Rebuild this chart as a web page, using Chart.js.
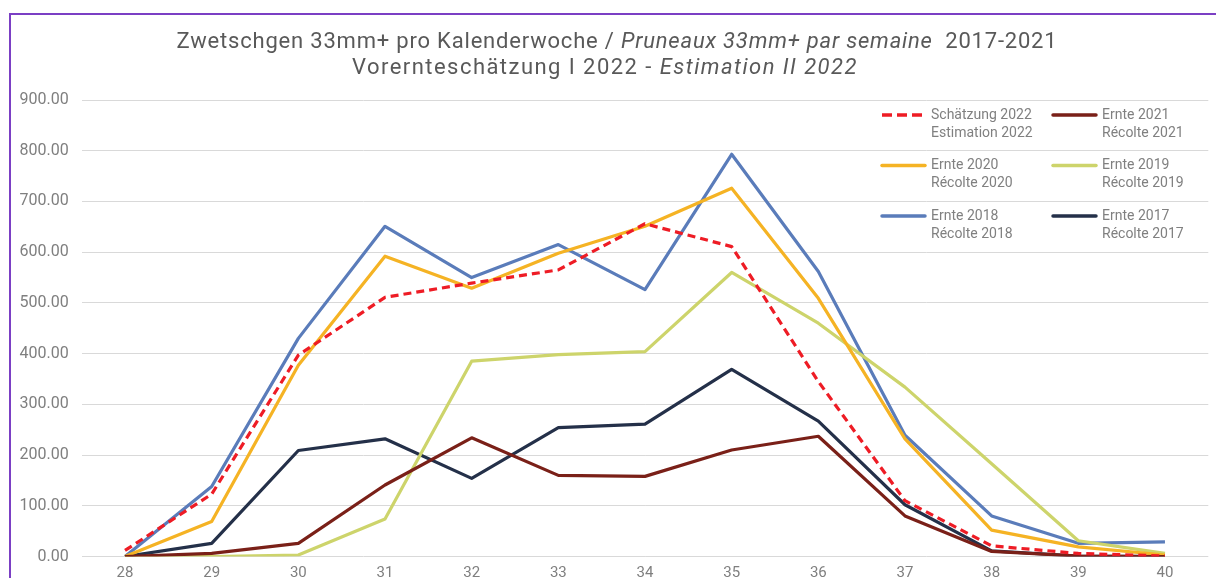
<!DOCTYPE html>
<html>
<head>
<meta charset="utf-8">
<script src="https://cdn.jsdelivr.net/npm/chart.js@4/dist/chart.umd.min.js"></script>
<style>
    body { margin: 0; background: #fff; overflow: hidden; }
    #wrap { position: absolute; left: 0; top: 0; width: 1216px; height: 600px; }
    #frame { position: absolute; left: 9px; top: 13px; width: 1300px; height: 700px;
             border-top: 2px solid #7b3fc4; border-left: 2px solid #7b3fc4; pointer-events: none; }
</style>
</head>
<body>
<div id="wrap"><canvas id="chart"></canvas></div>
<div id="frame"></div>
<script>
const weeks = ['28', '29', '30', '31', '32', '33', '34', '35', '36', '37', '38', '39', '40']
const schaetzung2022 = [12, 123, 397, 511, 539, 565, 656, 611, 345, 110, 21, 6, 1]
const ernte2021 = [0, 6, 26, 141, 234, 160, 158, 210, 237, 80, 10, 1, 0]
const ernte2020 = [0, 69, 377, 592, 529, 598, 651, 726, 509, 232, 52, 19, 3]
const ernte2019 = [0, 0, 3, 74, 385, 398, 404, 560, 460, 334, 183, 31, 6]
const ernte2018 = [0, 138, 430, 651, 550, 615, 526, 793, 562, 239, 80, 26, 29]
const ernte2017 = [0, 26, 209, 232, 154, 254, 261, 369, 267, 102, 11, 1, 0]
const legendDe = ['Schätzung 2022', 'Ernte 2021', 'Ernte 2020', 'Ernte 2019', 'Ernte 2018', 'Ernte 2017']
const legendFr = ['Estimation 2022', 'Récolte 2021', 'Récolte 2020', 'Récolte 2019', 'Récolte 2018', 'Récolte 2017']
const colors = ['#ee1c25', '#7a2018', '#f5b324', '#cdd46b', '#5a7cba', '#243049']
const yTicks = [0, 100, 200, 300, 400, 500, 600, 700, 800, 900]

// title with mixed upright / italic parts
const titleLines = [
    [['Zwetschgen 33mm+ pro Kalenderwoche / ', false], ['Pruneaux 33mm+ par semaine', true], ['  2017-2021', false]],
    [['Vorernteschätzung I 2022 - ', false], ['Estimation II 2022', true]]
]

const titlePlugin = {
    id: 'mixedTitle',
    afterDraw(chart) {
        const ctx = chart.ctx
        const centers = [617, 605]
        const ys = [42, 68]
        const spacing = ['0.8px', '1.45px']
        ctx.save()
        ctx.fillStyle = '#595959'
        ctx.textBaseline = 'middle'
        titleLines.forEach((parts, li) => {
            ctx.letterSpacing = spacing[li]
            const font = it => (it ? 'italic ' : '') + '22px Roboto'
            let total = 0
            parts.forEach(([t, it]) => { ctx.font = font(it); total += ctx.measureText(t).width })
            let x = centers[li] - total / 2
            parts.forEach(([t, it]) => {
                ctx.font = font(it)
                ctx.fillText(t, x, ys[li])
                x += ctx.measureText(t).width
            })
        })
        ctx.restore()
    }
}

const legendPlugin = {
    id: 'twoLineLegend',
    afterDraw(chart) {
        const ctx = chart.ctx
        const area = chart.chartArea
        ctx.save()
        ctx.font = '14px Roboto'
        ctx.textBaseline = 'middle'
        legendDe.forEach((de, i) => {
            const col = i % 2
            const row = Math.floor(i / 2)
            const x = col === 0 ? 882 : 1053
            const y = area.top + 15 + row * 50.5
            ctx.strokeStyle = colors[i]
            ctx.lineWidth = 3.5
            ctx.lineCap = i === 0 ? 'butt' : 'round'
            ctx.setLineDash(i === 0 ? [10, 5] : [])
            ctx.beginPath()
            ctx.moveTo(x, y)
            ctx.lineTo(x + 43, y)
            ctx.stroke()
            ctx.fillStyle = '#808080'
            ctx.fillText(de, x + 49, y)
            ctx.fillText(legendFr[i], x + 49, y + 18)
        })
        ctx.restore()
    }
}

const series = [schaetzung2022, ernte2021, ernte2020, ernte2019, ernte2018, ernte2017]

const ctx = document.getElementById('chart').getContext('2d')
new Chart(ctx, {
    type: 'line',
    data: {
        labels: weeks,
        datasets: series.map((s, i) => ({
            label: legendDe[i],
            data: s,
            borderColor: colors[i],
            backgroundColor: colors[i],
            borderWidth: 3.2,
            borderDash: i === 0 ? [8, 5] : [],
            borderJoinStyle: 'round',
            pointRadius: 0,
            tension: 0,
            fill: false
        }))
    },
    options: {
        responsive: true,
        maintainAspectRatio: false,
        animation: false,
        layout: { padding: { top: 100, right: 7.7, bottom: 9.5, left: 0 } },
        plugins: {
            legend: { display: false },
            title: { display: false },
            tooltip: { enabled: false }
        },
        scales: {
            x: {
                offset: true,
                grid: { display: false, drawTicks: false },
                border: { display: false },
                ticks: { color: '#7f7f7f', font: { family: 'Roboto', size: 15 }, padding: 8, maxRotation: 0 }
            },
            y: {
                min: 0,
                max: 900,
                afterFit: scale => { scale.width = 81.7 },
                afterBuildTicks: scale => { scale.ticks = yTicks.map(v => ({ value: v })) },
                grid: { color: '#d9d9d9', lineWidth: 1, drawTicks: false },
                border: { display: false },
                ticks: {
                    color: '#7f7f7f',
                    font: { family: 'Roboto', size: 16 },
                    padding: 13,
                    callback: v => v.toFixed(2)
                }
            }
        }
    },
    plugins: [titlePlugin, legendPlugin]
})
</script>
</body>
</html>
